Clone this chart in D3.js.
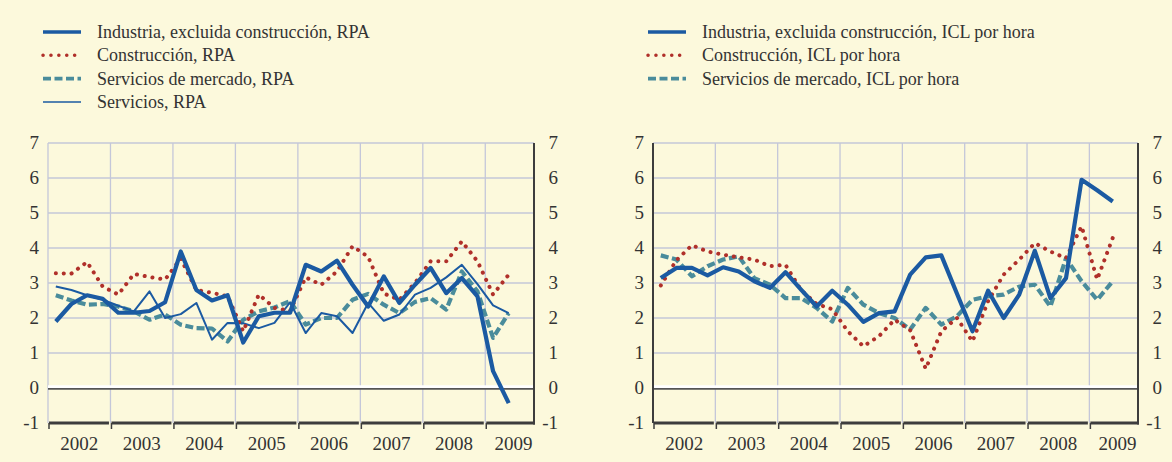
<!DOCTYPE html>
<html>
<head>
<meta charset="utf-8">
<script src="https://cdn.jsdelivr.net/npm/d3@7"></script>
<style>
  body { margin: 0; background: #fcf9dc; }
  svg { display: block; }
</style>
</head>
<body>
<svg id="chart" width="1172" height="462"></svg>
<script>
// quarters 2002 T1 .. 2009 T2
let years = [2002, 2003, 2004, 2005, 2006, 2007, 2008, 2009]
let yTicks = [-1, 0, 1, 2, 3, 4, 5, 6, 7]

// left panel: RPA
let indRPA = [1.9, 2.4, 2.65, 2.55, 2.15, 2.15, 2.2, 2.45, 3.9, 2.8, 2.5, 2.65, 1.3, 2.05, 2.15, 2.15,
  3.52, 3.33, 3.64, 2.95, 2.33, 3.19, 2.43, 2.95, 3.43, 2.71, 3.14, 2.62, 0.48, -0.43]
let conRPA = [3.28, 3.27, 3.6, 2.9, 2.67, 3.26, 3.17, 3.1, 3.7, 2.8, 2.72, 2.62, 1.62, 2.67, 2.29, 2.2,
  3.16, 2.95, 3.33, 4.05, 3.75, 2.7, 2.52, 3.0, 3.62, 3.62, 4.19, 3.62, 2.67, 3.24]
let sermRPA = [2.65, 2.5, 2.38, 2.4, 2.33, 2.19, 1.95, 2.1, 1.81, 1.71, 1.7, 1.33, 1.95, 2.19, 2.3, 2.48,
  1.81, 2.0, 2.0, 2.52, 2.69, 2.38, 2.14, 2.46, 2.57, 2.24, 3.33, 2.76, 1.43, 2.14]
let serRPA = [2.9, 2.8, 2.65, 2.52, 2.35, 2.19, 2.76, 2.0, 2.11, 2.43, 1.38, 1.86, 1.85, 1.71, 1.86, 2.45,
  1.57, 2.14, 2.05, 1.57, 2.43, 1.92, 2.1, 2.67, 2.86, 3.16, 3.52, 2.97, 2.36, 2.14]

// right panel: ICL por hora
let indICL = [3.14, 3.43, 3.43, 3.22, 3.45, 3.33, 3.05, 2.86, 3.31, 2.81, 2.33, 2.78, 2.38, 1.89, 2.14, 2.19,
  3.24, 3.73, 3.79, 2.7, 1.62, 2.78, 2.0, 2.67, 3.92, 2.57, 3.14, 5.95, 5.65, 5.33]
let conICL = [2.93, 3.65, 4.08, 3.9, 3.81, 3.73, 3.67, 3.48, 3.52, 2.8, 2.4, 2.25, 1.62, 1.19, 1.48, 1.95,
  1.65, 0.55, 1.62, 2.0, 1.33, 2.48, 3.24, 3.67, 4.14, 3.9, 3.71, 4.62, 3.1, 4.29]
let sermICL = [3.79, 3.67, 3.19, 3.48, 3.67, 3.76, 3.14, 2.95, 2.57, 2.57, 2.29, 1.9, 2.86, 2.38, 2.14, 2.0,
  1.67, 2.29, 1.81, 2.05, 2.52, 2.62, 2.67, 2.9, 2.95, 2.33, 3.71, 3.05, 2.52, 3.05]

let blue = "#1b5aa2"
let red = "#b0302a"
let teal = "#4a8c9b"
let grid = "#c4c7d9"
let dark = "#3d3d3d"
let bg = "#fcf9dc"
let serif = "'Liberation Serif', 'Times New Roman', serif"

let styles = {
  ind: { color: blue, width: 4.2, dash: null, cap: "butt" },
  con: { color: red, width: 4, dash: "0.1,7.8", cap: "round" },
  serm: { color: teal, width: 4.2, dash: "8,3.5", cap: "butt" },
  ser: { color: blue, width: 2, dash: null, cap: "butt" }
}

let svg = d3.select("#chart")
svg.append("rect").attr("width", 1172).attr("height", 462).attr("fill", bg)

let endYear = 2009.78

let drawPanel = function(x0, x1, series, legend, leftAxis){

  let x = d3.scaleLinear().domain([2002, endYear]).range([x0, x1])
  let y = d3.scaleLinear().domain([-1, 7]).range([423, 143])
  let g = svg.append("g")

  // grid
  g.selectAll(".hg").data(yTicks.filter(d => d > 0)).enter().append("line")
    .attr("x1", x0).attr("x2", x1)
    .attr("y1", d => y(d)).attr("y2", d => y(d))
    .attr("stroke", grid).attr("stroke-width", 1.3)
  g.selectAll(".vg").data(years).enter().append("line")
    .attr("x1", d => x(d)).attr("x2", d => x(d))
    .attr("y1", y(7)).attr("y2", y(-1))
    .attr("stroke", grid).attr("stroke-width", 1.3)

  // zero line
  g.append("line").attr("x1", x0).attr("x2", x1).attr("y1", y(0) + 0.8).attr("y2", y(0) + 0.8)
    .attr("stroke", "#555").attr("stroke-width", 1.8)
  g.append("line").attr("x1", x0).attr("x2", x1).attr("y1", y(0) - 1.4).attr("y2", y(0) - 1.4)
    .attr("stroke", "#ffffff").attr("stroke-width", 2.6)

  // axis lines
  g.append("line").attr("x1", x1).attr("x2", x1).attr("y1", y(7)).attr("y2", y(-1) + 1.5)
    .attr("stroke", dark).attr("stroke-width", 2)
  if(leftAxis){
    g.append("line").attr("x1", x0).attr("x2", x0).attr("y1", y(7)).attr("y2", y(-1))
      .attr("stroke", dark).attr("stroke-width", 2)
  }

  // bottom axis, one segment per year with a tick at its start
  years.forEach(function(yr){
    let a = x(yr) + 1
    let b = Math.min(x(yr + 1) - 1.5, x1 + 1)
    g.append("line").attr("x1", a).attr("x2", b).attr("y1", y(-1)).attr("y2", y(-1))
      .attr("stroke", dark).attr("stroke-width", 3)
    g.append("line").attr("x1", a).attr("x2", a).attr("y1", y(-1)).attr("y2", y(-1) + 6)
      .attr("stroke", dark).attr("stroke-width", 1.5)
  })

  // year labels
  g.selectAll(".yl").data(years).enter().append("text")
    .attr("x", d => x(Math.min(d + 0.5, endYear - 0.33)))
    .attr("y", 450)
    .attr("text-anchor", "middle")
    .attr("font-family", serif).attr("font-size", "19px").attr("fill", "#333")
    .text(d => d)

  // y labels both sides
  g.selectAll(".ylL").data(yTicks).enter().append("text")
    .attr("x", x0 - 9).attr("y", d => y(d) + 6)
    .attr("text-anchor", "end")
    .attr("font-family", serif).attr("font-size", "19px").attr("fill", "#333")
    .text(d => d)
  g.selectAll(".ylR").data(yTicks).enter().append("text")
    .attr("x", x1 + 24).attr("y", d => y(d) + 6)
    .attr("text-anchor", "end")
    .attr("font-family", serif).attr("font-size", "19px").attr("fill", "#333")
    .text(d => d)

  // series
  let line = d3.line()
    .x((d, i) => x(2002 + (i + 0.5) / 4))
    .y(d => y(d))
  series.forEach(function(s){
    let st = styles[s.key]
    g.append("path").datum(s.values)
      .attr("d", line)
      .attr("fill", "none")
      .attr("stroke", st.color)
      .attr("stroke-width", st.width)
      .attr("stroke-dasharray", st.dash)
      .attr("stroke-linecap", st.cap)
      .attr("stroke-linejoin", "round")
  })

  // legend
  legend.forEach(function(l, i){
    let st = styles[l.key]
    let ly = 38 + i * 23.3
    g.append("line")
      .attr("x1", x0 - 5).attr("x2", x0 + 33)
      .attr("y1", ly - 6).attr("y2", ly - 6)
      .attr("stroke", st.color)
      .attr("stroke-width", st.width - 0.5)
      .attr("stroke-dasharray", st.dash)
      .attr("stroke-linecap", st.cap)
    g.append("text")
      .attr("x", x0 + 49).attr("y", ly)
      .attr("font-family", serif).attr("font-size", "18px").attr("fill", "#333")
      .text(l.label)
  })
}

drawPanel(48, 534,
  [{ key: "serm", values: sermRPA }, { key: "ser", values: serRPA },
   { key: "con", values: conRPA }, { key: "ind", values: indRPA }],
  [{ key: "ind", label: "Industria, excluida construcción, RPA" },
   { key: "con", label: "Construcción, RPA" },
   { key: "serm", label: "Servicios de mercado, RPA" },
   { key: "ser", label: "Servicios, RPA" }],
  false)

drawPanel(653, 1138,
  [{ key: "serm", values: sermICL }, { key: "con", values: conICL }, { key: "ind", values: indICL }],
  [{ key: "ind", label: "Industria, excluida construcción, ICL por hora" },
   { key: "con", label: "Construcción, ICL por hora" },
   { key: "serm", label: "Servicios de mercado, ICL por hora" }],
  true)
</script>
</body>
</html>
